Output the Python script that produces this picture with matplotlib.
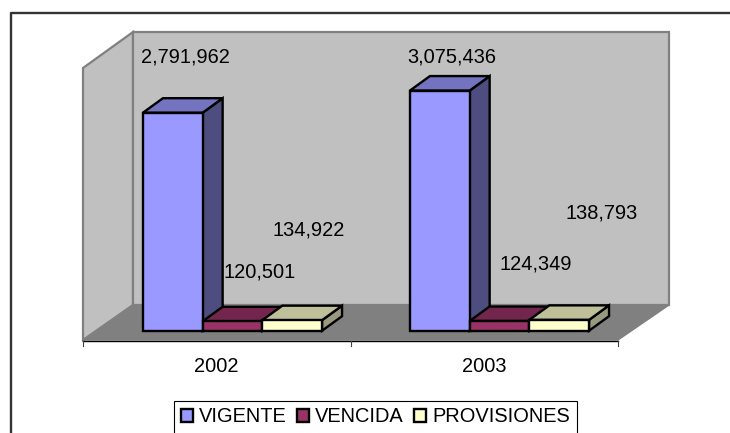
import matplotlib
matplotlib.use('Agg')
import matplotlib.pyplot as plt
from matplotlib.patches import Polygon, Rectangle
from matplotlib.transforms import Affine2D

plt.rcParams['font.family'] = ['Liberation Sans', 'DejaVu Sans']

# Data
YEARS = ['2002', '2003']
SERIES = ['VIGENTE', 'VENCIDA', 'PROVISIONES']
VIGENTE = [2791962, 3075436]
VENCIDA = [120501, 124349]
PROVISIONES = [134922, 138793]

# Colours per series: front, top, side
COLORS = {
    'VIGENTE': ('#9999FF', '#7373BF', '#4D4D80'),
    'VENCIDA': ('#993366', '#73264D', '#4D1A33'),
    'PROVISIONES': ('#FFFFCC', '#BFBF99', '#999980'),
}

W, H = 730, 433
PX_PER_UNIT = 218.0 / 2791962
BASE_Y = 330.7
GROUP_X = 232.5
GROUP_STEP = 267.0
BAR_W = 59.7 / GROUP_STEP
DEPTH_X = 20.0 / GROUP_STEP
DEPTH_Y = 14.5 / PX_PER_UNIT

# label centres in pixels from the top-left corner
LABEL_POS = {
    ('VIGENTE', 0): (185, 57), ('VENCIDA', 0): (259.5, 272), ('PROVISIONES', 0): (309, 230),
    ('VIGENTE', 1): (451.5, 57), ('VENCIDA', 1): (536, 264), ('PROVISIONES', 1): (602, 213),
}

fig = plt.figure(figsize=(W / 100, H / 100), dpi=100, facecolor='white')
ax = fig.add_axes([0, 0, 1, 1])
ax.set_xlim(-GROUP_X / GROUP_STEP, (W - GROUP_X) / GROUP_STEP)
ax.set_ylim(-(H - BASE_Y) / PX_PER_UNIT, BASE_Y / PX_PER_UNIT)
ax.axis('off')

# pixel coordinates, origin top-left
px = Affine2D().scale(1, -1).translate(0, H)

# outer frame, open on the right and bottom
ax.plot([10.5, 10.5, W], [H, 13, 13], color='#333333', lw=1.7, transform=px, clip_on=False)

# walls and floor
wall_kw = dict(edgecolor='#808080', lw=1.6, transform=px, joinstyle='miter')
ax.add_patch(Polygon([(83, 68), (133, 32), (133, 305), (83, 340)], facecolor='#C0C0C0', **wall_kw))
ax.add_patch(Polygon([(133, 32), (669, 32), (669, 305), (133, 305)], facecolor='#C0C0C0', **wall_kw))
ax.add_patch(Polygon([(83, 340), (133, 305), (669, 305), (618, 340)], facecolor='#808080',
                     edgecolor='#808080', lw=1, transform=px))

# category axis
ax.plot([83, 618], [341, 341], color='black', lw=1.0, transform=px)
for tx in [83, 351, 618]:
    ax.plot([tx, tx], [341, 346], color='#404040', lw=0.8, transform=px)
for i, year in enumerate(YEARS):
    ax.text([216, 484][i], 366, year, fontsize=14.4, color='black', ha='center', va='center',
            transform=px)

# bars
values = {'VIGENTE': VIGENTE, 'VENCIDA': VENCIDA, 'PROVISIONES': PROVISIONES}
edge_kw = dict(edgecolor='black', lw=1.7, joinstyle='miter')
for g in range(len(YEARS)):
    for s, name in enumerate(SERIES):
        v = values[name][g]
        x0 = g + (s - 1.5) * BAR_W
        x1 = x0 + BAR_W
        front, top, side = COLORS[name]
        ax.add_patch(Polygon([(x1, 0), (x1 + DEPTH_X, DEPTH_Y), (x1 + DEPTH_X, v + DEPTH_Y), (x1, v)],
                             facecolor=side, **edge_kw))
        ax.add_patch(Polygon([(x0, v), (x0 + DEPTH_X, v + DEPTH_Y), (x1 + DEPTH_X, v + DEPTH_Y), (x1, v)],
                             facecolor=top, **edge_kw))
        ax.add_patch(Rectangle((x0, 0), BAR_W, v, facecolor=front, **edge_kw))
        lx, ly = LABEL_POS[(name, g)]
        ax.text(lx, ly, f'{v:,}', fontsize=14.4, color='black', ha='center', va='center', transform=px)

# legend
handles = [Rectangle((0, 0), 1, 1, facecolor=COLORS[n][0], edgecolor='black', lw=1.7) for n in SERIES]
leg = ax.legend(handles, SERIES, ncol=3, loc='center', bbox_to_anchor=(375.5, 417), bbox_transform=px,
                fontsize=14.4, frameon=True, fancybox=False, framealpha=1, edgecolor='black',
                handlelength=0.62, handleheight=0.62, handletextpad=0.3, columnspacing=0.5,
                borderpad=0.35, borderaxespad=0)
leg.get_frame().set_linewidth(0.8)

fig.savefig('out.png', dpi=100, facecolor='white')
